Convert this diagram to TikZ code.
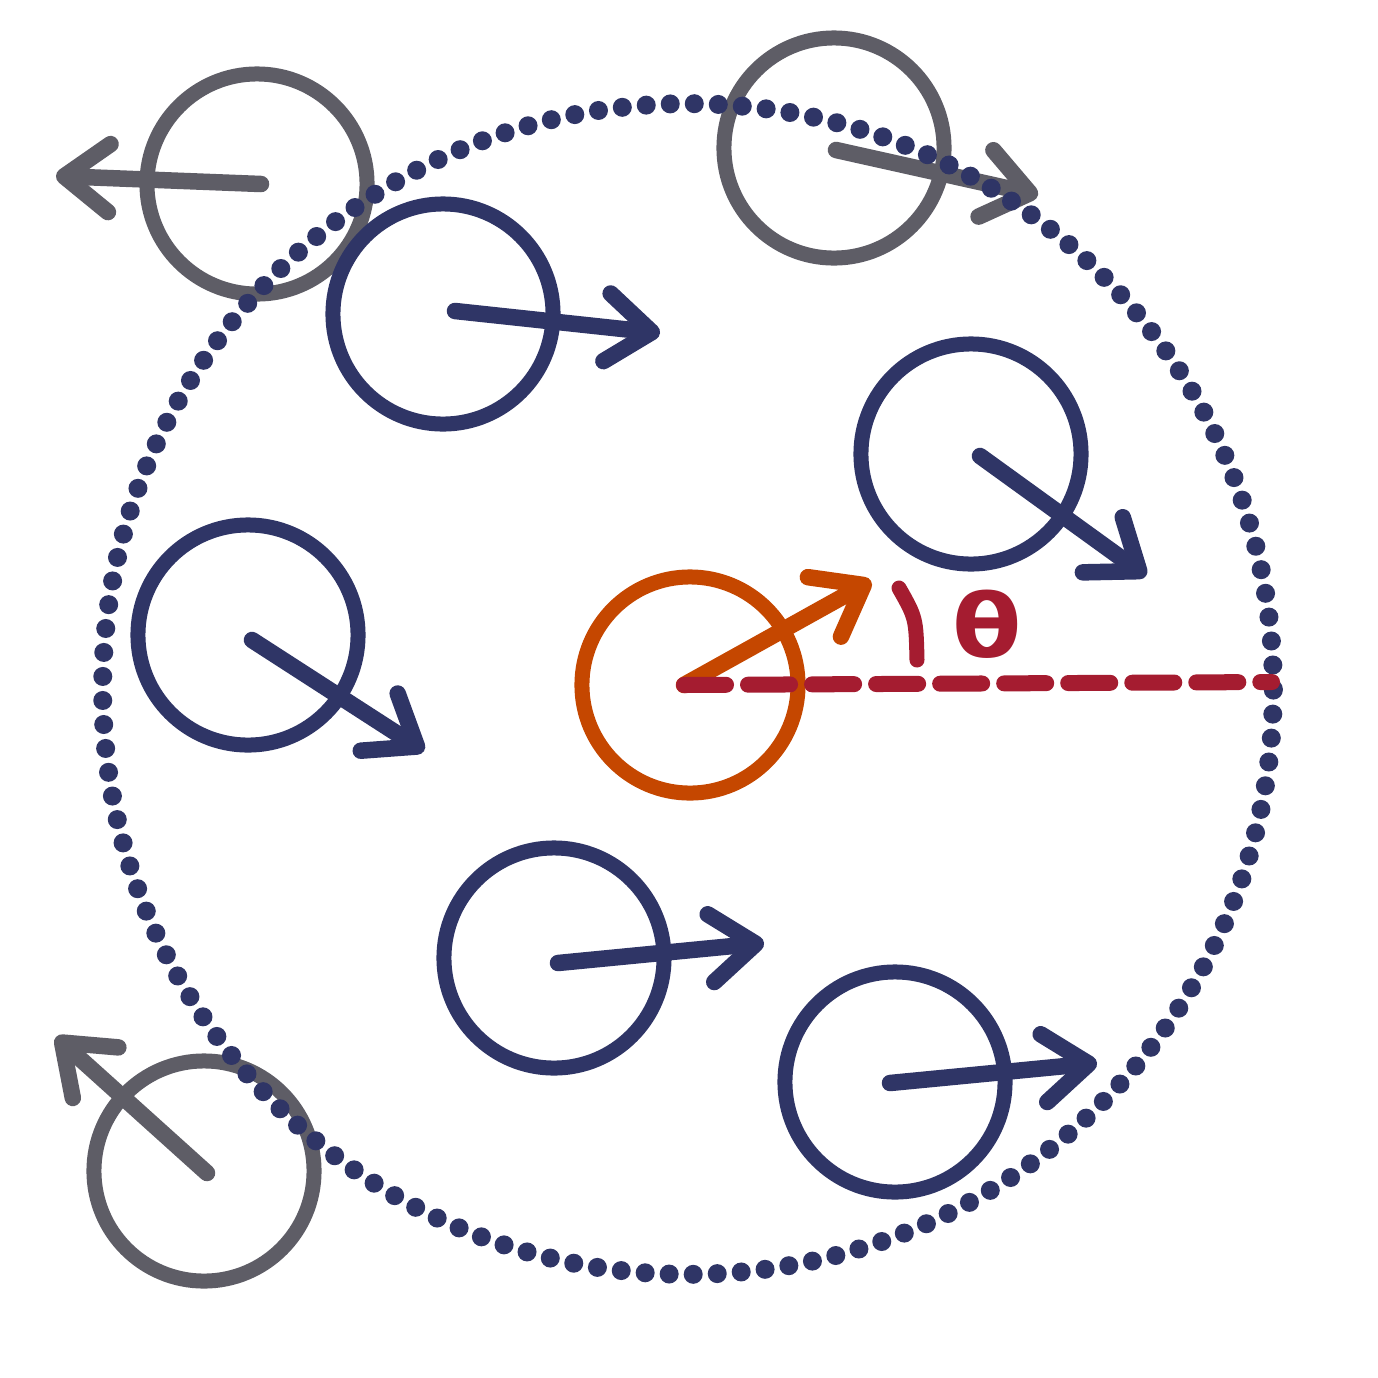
\documentclass[tikz,border=0pt]{standalone}
\usepackage{fontspec}
\newfontfamily\thetafont{DejaVu Sans}
\usetikzlibrary{arrows.meta}
\definecolor{navy}{HTML}{2F3566}
\definecolor{slate}{HTML}{5E5D66}
\definecolor{rust}{HTML}{C54700}
\definecolor{crimson}{HTML}{A51C30}
\begin{document}
\begin{tikzpicture}[x=0.01cm,y=-0.01cm,
  disc/.style={circle,draw,line width=0.15cm,minimum size=2.2cm,inner sep=0pt},
  vec/.style={line width=0.165cm,line cap=round,line join=round,
    -{Straight Barb[length=0.45cm,width=0.68cm,round]}},
  ring/.style={navy,line width=0.19cm,line cap=round,dash pattern=on 0pt off 0.2402cm},
  axis/.style={crimson,line width=0.16cm,line cap=round,dash pattern=on 0.42cm off 0.22cm},
  anglemark/.style={crimson,line width=0.15cm,line cap=round}]
\useasboundingbox (0,0) rectangle (1378,1378);
\fill[white] (0,0) rectangle (1378,1378);
% grey (outside) particles
\node[disc,slate] (g1) at (257,184) {};
\node[disc,slate] (g2) at (834,148) {};
\node[disc,slate] (g3) at (204,1171) {};
\coordinate (g1s) at (261,184); \coordinate (g1t) at (56,176);
\coordinate (g2s) at (836,150); \coordinate (g2t) at (1038,195);
\coordinate (g3s) at (207,1173); \coordinate (g3t) at (56,1037);
\draw[vec,slate] (g1s) -- (g1t);
\draw[vec,slate] (g2s) -- (g2t);
\draw[vec,slate] (g3s) -- (g3t);
% neighbourhood boundary
\coordinate (O) at (688,689);
\draw[ring] (O) circle[radius=5.85cm];
% navy (inside) particles
\node[disc,navy] (n1) at (443,314) {};
\node[disc,navy] (n2) at (971,454) {};
\node[disc,navy] (n3) at (248,635) {};
\node[disc,navy] (n4) at (554,958) {};
\node[disc,navy] (n5) at (895,1082) {};
\coordinate (n1s) at (455,311); \coordinate (n1t) at (660,333);
\coordinate (n2s) at (980,456); \coordinate (n2t) at (1146,576);
\coordinate (n3s) at (252,640); \coordinate (n3t) at (424,751);
\coordinate (n4s) at (558,963); \coordinate (n4t) at (764,943);
\coordinate (n5s) at (890,1083); \coordinate (n5t) at (1097,1063);
\draw[vec,navy] (n1s) -- (n1t);
\draw[vec,navy] (n2s) -- (n2t);
\draw[vec,navy] (n3s) -- (n3t);
\draw[vec,navy] (n4s) -- (n4t);
\draw[vec,navy] (n5s) -- (n5t);
% focal particle
\node[disc,rust,minimum size=2.16cm] (f) at (690,685) {};
\coordinate (fs) at (684,685); \coordinate (ft) at (871,581);
\draw[vec,rust] (fs) -- (ft);
% reference axis and angle
\coordinate (ax) at (1272,682);
\draw[axis] (fs) -- (ax);
\draw[anglemark] (899,588) .. controls (916,618) .. (917,660);
\node[crimson,font=\thetafont\bfseries\fontsize{25}{28}\selectfont,inner sep=0pt,xscale=1.15] (theta) at (987,624) {θ};
\end{tikzpicture}
\end{document}
